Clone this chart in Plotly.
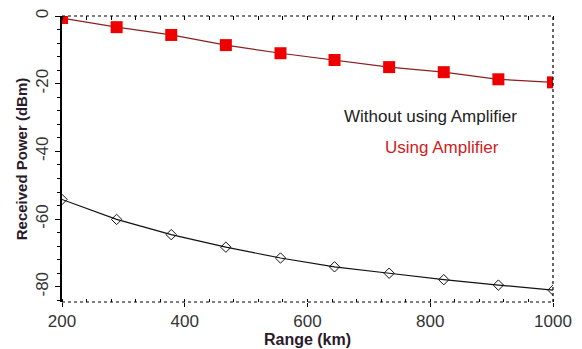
import plotly.graph_objects as go

range_km = [200, 289, 378, 467, 556, 644, 733, 822, 911, 1000]
with_amp = [-0.6, -3.3, -5.6, -8.6, -11.0, -13.0, -15.1, -16.6, -18.7, -19.6]
without_amp = [-54.2, -60.1, -64.6, -68.3, -71.5, -74.1, -76.0, -77.9, -79.5, -81.0]

x_ticks = [200, 400, 600, 800, 1000]
y_ticks = [0, -20, -40, -60, -80]

FONT = "Liberation Sans, Arial, sans-serif"

fig = go.Figure()
fig.add_trace(go.Scatter(
    x=range_km, y=with_amp, mode="lines+markers",
    line=dict(color="#8a2020", width=1.2),
    marker=dict(symbol="square", size=12, color="#ee0000", line=dict(width=0)),
    showlegend=False))
fig.add_trace(go.Scatter(
    x=range_km, y=without_amp, mode="lines+markers",
    line=dict(color="#111111", width=1.2),
    marker=dict(symbol="diamond-open", size=8, color="#111111", line=dict(width=1)),
    showlegend=False))
# invisible trace to show top axis ticks
fig.add_trace(go.Scatter(x=[200, 1000], y=[0, 0], xaxis="x2", mode="markers",
                         marker=dict(opacity=0), showlegend=False, hoverinfo="skip"))

fig.update_layout(
    width=582, height=349,
    margin=dict(l=62, r=29, t=16, b=47),
    paper_bgcolor="white", plot_bgcolor="white",
    font=dict(family=FONT, size=16, color="#333333"),
    xaxis=dict(range=[200, 1000], tickvals=x_ticks, ticktext=[str(v) for v in x_ticks],
               automargin=False,
               showgrid=False, zeroline=False, showline=False,
               ticks="outside", ticklen=4, tickcolor="black",
               minor=dict(dtick=40, tick0=200, ticks="inside", ticklen=3, tickcolor="black"),
               title=dict(text="<b>Range (km)</b>", font=dict(size=16, color="#2a1a2a"), standoff=2),
               tickfont=dict(size=17, color="#333333")),
    xaxis2=dict(range=[200, 1000], overlaying="x", side="top", showticklabels=False,
                automargin=False,
                showgrid=False, zeroline=False, showline=False, tickvals=[],
                minor=dict(dtick=40, tick0=200, ticks="inside", ticklen=4, tickcolor="black")),
    yaxis=dict(range=[-84.5, 0], tickvals=y_ticks, ticktext=[str(v) for v in y_ticks],
               automargin=False,
               showgrid=False, zeroline=False, showline=True, linecolor="black", linewidth=1.5,
               ticks="outside", ticklen=5, tickcolor="black", tickangle=-90,
               minor=dict(dtick=4, tick0=0, ticks="outside", ticklen=3, tickcolor="black"),
               title=dict(text="<b>Received Power (dBm)</b>", font=dict(size=15, color="#2a1a2a"), standoff=2),
               tickfont=dict(size=17, color="#333333")),
)

# dotted top, right and bottom frame lines
for (x0, y0, x1, y1) in [(0, 1, 1, 1), (1, 0, 1, 1), (0, 0, 1, 0)]:
    fig.add_shape(type="line", xref="paper", yref="paper", x0=x0, y0=y0, x1=x1, y1=y1,
                  line=dict(color="black", width=1.2, dash="dot"))

fig.add_annotation(x=800, y=-29.6, xref="x", yref="y", text="Without using Amplifier",
                   showarrow=False, font=dict(size=17, color="#222222"))
fig.add_annotation(x=819, y=-38.8, xref="x", yref="y", text="Using Amplifier",
                   showarrow=False, font=dict(size=17, color="#d02020"))

fig.write_html("out.html")
